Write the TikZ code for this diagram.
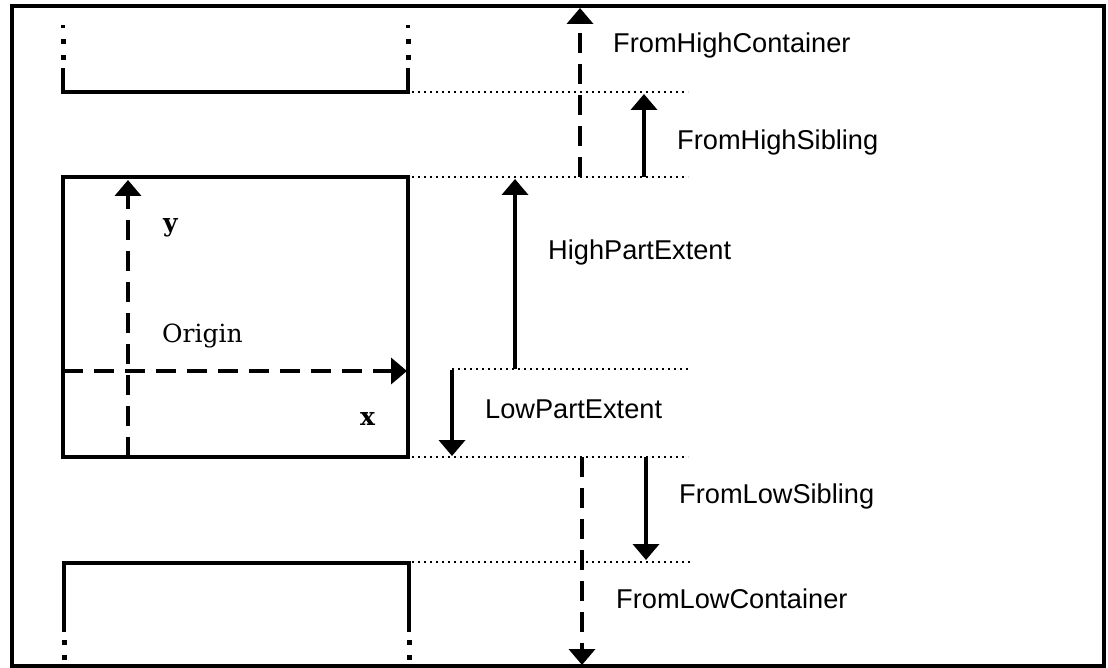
\documentclass[tikz,border=0pt]{standalone}
\usepackage{fontspec}
\newfontfamily\labfont{Liberation Sans}
\newfontfamily\serfont{DejaVu Serif}
\usetikzlibrary{arrows.meta}
\begin{document}
\begin{tikzpicture}[x=1pt,y=-1pt,
 frame/.style={line width=3.5pt},
 box/.style={line width=4pt},
 solidarrow/.style={line width=3.8pt,-{Triangle[width=26pt,length=16pt]}},
 dashedarrow/.style={line width=3.8pt,dash pattern=on 20pt off 11pt,-{Triangle[width=26pt,length=16pt]}},
 dotline/.style={line width=1.6pt,dash pattern=on 1.6pt off 4.4pt},
 lab/.style={anchor=base west,inner sep=0pt,font=\labfont\fontsize{27.2}{30}\selectfont},
 ser/.style={anchor=base west,inner sep=0pt,font=\serfont\fontsize{25}{30}\selectfont},
 bigdot/.style={rectangle,fill,inner sep=0pt,minimum size=5pt},
 smalldot/.style={rectangle,fill,inner sep=0pt,minimum width=4pt,minimum height=3pt}]
\useasboundingbox (0,0) rectangle (1108,668);
\draw[frame] (12,6) rectangle (1104,666);

% top container (partial)
\draw[box] (63,68) -- (63,92) -- (408,92) -- (408,68);
\node[smalldot] (tl1) at (63,27) {};
\node[bigdot] (tl2) at (63,42) {};
\node[bigdot] (tl3) at (63,58) {};
\node[smalldot] (tr1) at (408,27) {};
\node[bigdot] (tr2) at (408,42) {};
\node[bigdot] (tr3) at (408,58) {};

% main box
\draw[box] (63,177) rectangle (408,457);
\coordinate (ybot) at (128,457);
\coordinate (ytop) at (128,180);
\coordinate (xl) at (63,371);
\coordinate (xr) at (407,371);
\draw[dashedarrow] (ybot) -- (ytop);
\draw[dashedarrow] (xl) -- (xr);
\node[ser] (ylab) at (163,232) {\bfseries y};
\node[ser] (orig) at (162,342) {Origin};
\node[ser] (xlab) at (360,425) {\bfseries x};

% bottom container (partial)
\draw[box] (64,632) -- (64,563) -- (409,563) -- (409,632);
\node[bigdot] (bl1) at (64,642) {};
\node[bigdot] (bl2) at (64,657) {};
\node[bigdot] (br1) at (409,642) {};
\node[bigdot] (br2) at (409,657) {};

% dotted reference lines
\coordinate (d1a) at (412,92);  \coordinate (d1b) at (688,92);
\coordinate (d2a) at (412,177); \coordinate (d2b) at (688,177);
\coordinate (d3a) at (452,369); \coordinate (d3b) at (690,369);
\coordinate (d4a) at (412,457); \coordinate (d4b) at (688,457);
\coordinate (d5a) at (412,562); \coordinate (d5b) at (690,562);
\draw[dotline] (d1a) -- (d1b);
\draw[dotline] (d2a) -- (d2b);
\draw[dotline] (d3a) -- (d3b);
\draw[dotline] (d4a) -- (d4b);
\draw[dotline] (d5a) -- (d5b);

% arrows
\coordinate (fhc0) at (580,177); \coordinate (fhc1) at (580,8);
\coordinate (fhs0) at (644,177); \coordinate (fhs1) at (644,94);
\coordinate (hpe0) at (515,369); \coordinate (hpe1) at (515,179);
\coordinate (lpe0) at (452,370); \coordinate (lpe1) at (452,456);
\coordinate (fls0) at (646,457); \coordinate (fls1) at (646,560);
\coordinate (flc0) at (582,457); \coordinate (flc1) at (582,665);
\draw[dashedarrow] (fhc0) -- (fhc1);
\draw[solidarrow] (fhs0) -- (fhs1);
\draw[solidarrow] (hpe0) -- (hpe1);
\draw[solidarrow] (lpe0) -- (lpe1);
\draw[solidarrow] (fls0) -- (fls1);
\draw[dashedarrow] (flc0) -- (flc1);

% labels
\node[lab] (l1) at (613,53) {FromHighContainer};
\node[lab] (l2) at (677,150) {FromHighSibling};
\node[lab] (l3) at (548,260) {HighPartExtent};
\node[lab] (l4) at (485,418) {LowPartExtent};
\node[lab] (l5) at (679,503) {FromLowSibling};
\node[lab] (l6) at (616,608) {FromLowContainer};
\end{tikzpicture}
\end{document}
